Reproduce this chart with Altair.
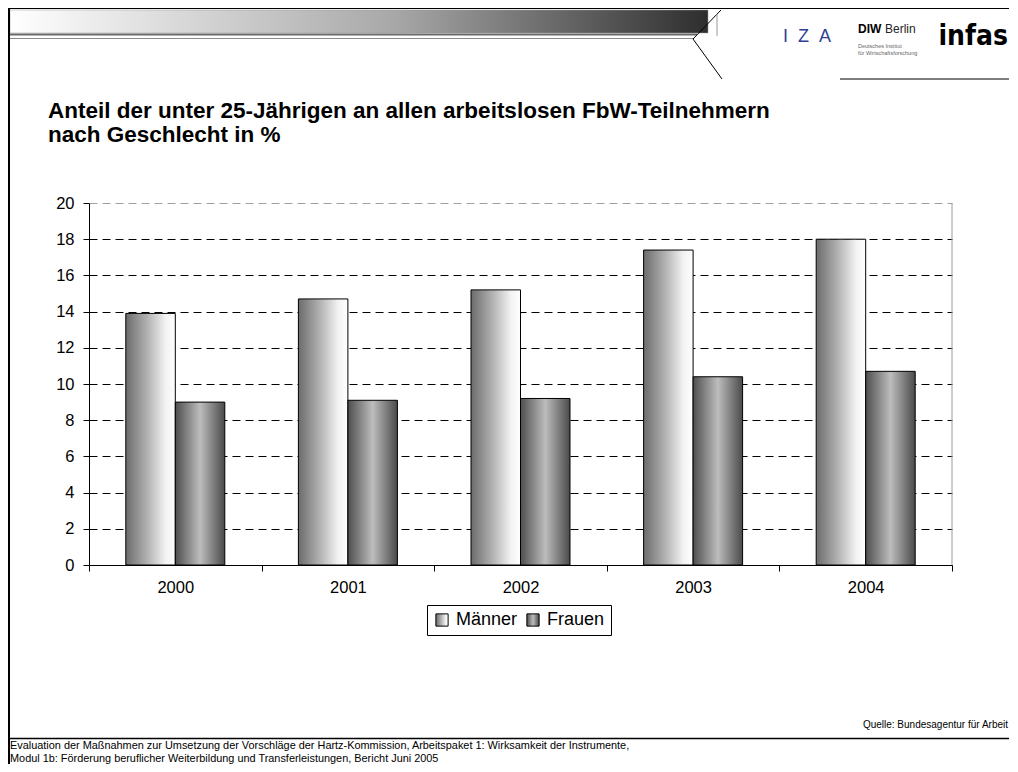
import altair as alt
import pandas as pd

# ---------------- data ----------------
jahre = ["2000", "2001", "2002", "2003", "2004"]
maenner = [13.9, 14.7, 15.2, 17.4, 18.0]
frauen = [9.0, 9.1, 9.2, 10.4, 10.7]
serien = ["Männer", "Frauen"]
y_ticks = [0, 2, 4, 6, 8, 10, 12, 14, 16, 18, 20]

titel = ["Anteil der unter 25-Jährigen an allen arbeitslosen FbW-Teilnehmern",
         "nach Geschlecht in %"]
quelle = "Quelle: Bundesagentur für Arbeit"
fusszeile = ["Evaluation der Maßnahmen zur Umsetzung der Vorschläge der Hartz-Kommission, Arbeitspaket 1: Wirksamkeit der Instrumente,",
             "Modul 1b: Förderung beruflicher Weiterbildung und Transferleistungen, Bericht Juni 2005"]

rows = []
for j, m, f in zip(jahre, maenner, frauen):
    rows.append({"Jahr": j, "Geschlecht": serien[0], "Wert": m})
    rows.append({"Jahr": j, "Geschlecht": serien[1], "Wert": f})
df = pd.DataFrame(rows)

# ---------------- layout ----------------
OX, OY = 89, 203          # page position of plot origin
W, H = 863, 362
PAD = {"left": OX - 8, "top": OY - 8, "right": 57, "bottom": 199}
SANS = "Liberation Sans, Arial, Helvetica, sans-serif"
COND = "DejaVu Sans Condensed, Liberation Sans Narrow, Arial Narrow, Liberation Sans, sans-serif"
NB = "\u00a0"


def px(x):
    return x - OX


def py(y):
    return y - OY


one = alt.Data(values=[{"k": 0}])


def rule(x1, y1, x2, y2, color="black", width=1):
    return alt.Chart(one).mark_rule(color=color, strokeWidth=width).encode(
        x=alt.value(px(x1)), y=alt.value(py(y1)),
        x2=alt.value(px(x2)), y2=alt.value(py(y2)))


def label(x, y, s, size, color="black", weight="normal", align="left", font=SANS):
    return alt.Chart(one).mark_text(
        text=s, align=align, baseline="alphabetic", fontSize=size, font=font,
        fontWeight=weight, color=color).encode(x=alt.value(px(x)), y=alt.value(py(y)))


# ---------------- decorations (slide frame / header) ----------------
header = alt.Chart(one).mark_rect(
    color=alt.LinearGradient(
        gradient="linear", x1=0, x2=1, y1=0, y2=0,
        stops=[alt.GradientStop(color="#ffffff", offset=0),
               alt.GradientStop(color="#a8a8a8", offset=0.55),
               alt.GradientStop(color="#2e2e2e", offset=1)]),
    stroke="#9a9a9a", strokeWidth=0.5
).encode(x=alt.value(px(10)), x2=alt.value(px(708)),
         y=alt.value(py(10)), y2=alt.value(py(33)))

deco = [
    header,
    rule(10, 34.5, 697, 34.5, "#6a6a6a", 2),
    rule(10, 38.5, 693, 38.5, "#8a8a8a", 1),
    rule(6, 7.5, 1018, 7.5, "black", 3),
    rule(8.5, 6, 8.5, 772, "black", 3),
    rule(721, 10, 693, 39, "black", 1),
    rule(693, 39, 722, 79, "black", 1),
    rule(717, 14, 717, 36, "#9a9a9a", 1),
    rule(840, 79, 1018, 79, "black", 1),
    rule(10, 738.5, 1018, 738.5, "black", 1.5),
    label(783, 42, "I" + NB * 2 + "Z" + NB * 2 + "A", 18, "#2f3f95"),
    label(858, 33, "DIW", 12, "black", "bold"),
    label(885, 33, "Berlin", 12, "#222222"),
    label(858, 48, "Deutsches Institut", 5.5, "#666666"),
    label(858, 55, "für Wirtschaftsforschung", 5.5, "#666666"),
    label(1008, 45, "infas", 28, "black", "bold", align="right", font=COND),
    label(48, 117.5, titel[0], 22.5, "black", "bold"),
    label(48, 142, titel[1], 22.5, "black", "bold"),
    label(1008, 728, quelle, 10, align="right"),
    label(10, 748.5, fusszeile[0], 10.9),
    label(10, 762, fusszeile[1], 10.9),
    # right border of the plot area
    alt.Chart(one).mark_rule(color="#9a9a9a", strokeWidth=1).encode(
        x=alt.value(W), y=alt.value(0), y2=alt.value(H)),
]

# ---------------- bars ----------------
grad_m = ("{gradient:'linear',x1:0,y1:0,x2:1,y2:0,stops:["
          "{offset:0,color:'#6c6c6c'},{offset:0.45,color:'#b4b4b4'},"
          "{offset:0.8,color:'#f2f2f2'},{offset:1,color:'#ffffff'}]}")
grad_f = ("{gradient:'linear',x1:0,y1:0,x2:1,y2:0,stops:["
          "{offset:0,color:'#4e4e4e'},{offset:0.5,color:'#bdbdbd'},"
          "{offset:1,color:'#4a4a4a'}]}")

bars = alt.Chart(df).mark_bar(stroke="black", strokeWidth=1, opacity=1).encode(
    x=alt.X("Jahr:N", sort=jahre, title=None,
            scale=alt.Scale(paddingInner=0, paddingOuter=0),
            axis=alt.Axis(labelAngle=0, tickBand="extent", domainColor="black",
                          domainWidth=1, tickColor="black", tickSize=6,
                          labelFontSize=16.5, labelFont=SANS, labelColor="black",
                          labelPadding=8, grid=False)),
    xOffset=alt.XOffset("Geschlecht:N", sort=serien,
                        scale=alt.Scale(domain=serien, paddingInner=0, paddingOuter=0.7435)),
    y=alt.Y("Wert:Q", title=None, scale=alt.Scale(domain=[0, 20], nice=False),
            axis=alt.Axis(values=y_ticks, domainColor="black", domainWidth=1,
                          tickColor="black", tickSize=6, labelFontSize=16.5,
                          labelFont=SANS, labelColor="black", labelPadding=9,
                          grid=True, gridDash=[8, 5], gridWidth=1,
                          gridColor=alt.condition("datum.value == 20",
                                                  alt.value("#a0a0a0"),
                                                  alt.value("black")))),
    color=alt.Color("Geschlecht:N", sort=serien,
                    scale=alt.Scale(domain=serien,
                                    range=[{"expr": grad_m}, {"expr": grad_f}]),
                    legend=alt.Legend(orient="none", legendX=338, legendY=402,
                                      direction="horizontal", title=None,
                                      labelFontSize=18, labelFont=SANS,
                                      labelColor="black", symbolType="square",
                                      symbolSize=150, symbolStrokeColor="black",
                                      symbolStrokeWidth=1, strokeColor="black",
                                      fillColor="white", padding=6,
                                      columnPadding=6, labelOffset=5,
                                      cornerRadius=0)),
)

chart = alt.layer(*deco, bars).properties(
    width=W, height=H, padding=PAD,
    autosize=alt.AutoSizeParams(type="none"),
    background="white",
).configure_view(stroke=None)

chart.save("out.html", embed_options={"renderer": "svg", "actions": False})
